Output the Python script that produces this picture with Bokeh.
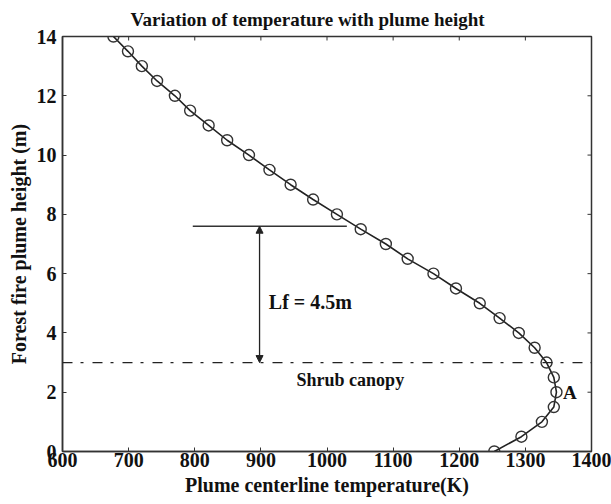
from bokeh.plotting import figure
from bokeh.models import Range1d, Span, Label, Arrow, NormalHead, ColumnDataSource, FixedTicker
from bokeh.embed import file_html
from bokeh.resources import INLINE

# Data
height_m = [0.0, 0.5, 1.0, 1.5, 2.0, 2.5, 3.0, 3.5, 4.0, 4.5, 5.0, 5.5, 6.0, 6.5,
            7.0, 7.5, 8.0, 8.5, 9.0, 9.5, 10.0, 10.5, 11.0, 11.5, 12.0, 12.5,
            13.0, 13.5, 14.0]
temperature_k = [1253, 1294, 1325, 1343, 1347, 1343, 1332, 1314, 1290, 1261, 1231,
                 1195, 1161, 1122, 1089, 1051, 1015, 979, 945, 913, 882, 849, 821,
                 793, 770, 743, 720, 699, 677]
x_ticks = [600, 700, 800, 900, 1000, 1100, 1200, 1300, 1400]
y_ticks = [0, 2, 4, 6, 8, 10, 12, 14]

canopy_height = 3.0
flame_top = 7.6
lf_x = 898
lf_line_x0, lf_line_x1 = 797, 1030

X_MIN, X_MAX, Y_MIN, Y_MAX = 600, 1400, 0, 14
FONT = "Liberation Serif"
INK = "#111111"

p = figure(width=611, height=504, output_backend="svg", toolbar_location=None,
           x_range=Range1d(X_MIN, X_MAX), y_range=Range1d(Y_MIN, Y_MAX),
           title="Variation of temperature with plume height")
p.min_border_left = 62
p.min_border_right = 20
p.min_border_top = 35
p.min_border_bottom = 53
p.background_fill_color = "white"
p.border_fill_color = "white"
p.xgrid.visible = False
p.ygrid.visible = False
p.outline_line_color = "#333333"
p.outline_line_width = 1.5

p.title.align = "left"
p.title.offset = 68
p.title.text_font = FONT
p.title.text_font_size = "19px"
p.title.text_font_style = "bold"
p.title.text_color = INK
p.title.standoff = 13

for ax in (p.xaxis[0], p.yaxis[0]):
    ax.major_tick_in = 4
    ax.major_tick_out = 0
    ax.minor_tick_line_color = None
    ax.axis_line_color = "#333333"
    ax.axis_line_width = 1.5
    ax.major_tick_line_color = "#333333"
    ax.major_label_text_font = FONT
    ax.major_label_text_font_size = "20px"
    ax.major_label_text_font_style = "bold"
    ax.major_label_text_color = INK
    ax.axis_label_text_font = FONT
    ax.axis_label_text_font_size = "20px"
    ax.axis_label_text_font_style = "bold"
    ax.axis_label_text_color = INK

p.xaxis[0].ticker = FixedTicker(ticks=x_ticks)
p.yaxis[0].ticker = FixedTicker(ticks=y_ticks)
p.xaxis[0].axis_label = "Plume centerline temperature(K)"
p.yaxis[0].axis_label = "Forest fire plume height (m)"
p.xaxis[0].major_label_standoff = 1
p.xaxis[0].axis_label_standoff = 4
p.yaxis[0].major_label_standoff = 6
p.yaxis[0].axis_label_standoff = 4

# Inward tick marks on the right and top edges (MATLAB style box)
x_tick_len = (X_MAX - X_MIN) * 4 / 529
y_tick_len = (Y_MAX - Y_MIN) * 4 / 416
p.segment(x0=[X_MAX] * len(y_ticks), y0=y_ticks,
          x1=[X_MAX - x_tick_len] * len(y_ticks), y1=y_ticks,
          line_color="#333333", line_width=1)
p.segment(x0=x_ticks, y0=[Y_MAX] * len(x_ticks),
          x1=x_ticks, y1=[Y_MAX - y_tick_len] * len(x_ticks),
          line_color="#333333", line_width=1)

src = ColumnDataSource(dict(t=temperature_k, h=height_m))
p.line("t", "h", source=src, line_color="#222222", line_width=1.6)
p.scatter("t", "h", source=src, marker="circle", size=11, fill_color=None,
          line_color="#333333", line_width=1.4)

# Shrub canopy dash-dot line
p.add_layout(Span(location=canopy_height, dimension="width", line_color="#222222",
                  line_width=1.3, line_dash="10 8 3 9"))

# Flame height marker line
p.segment(x0=[lf_line_x0], y0=[flame_top], x1=[lf_line_x1], y1=[flame_top],
          line_color="#333333", line_width=1.4)

# Double arrow
p.add_layout(Arrow(x_start=lf_x, y_start=canopy_height, x_end=lf_x, y_end=flame_top,
                   line_color="#222222", line_width=1.3,
                   start=NormalHead(size=7, fill_color="#222222", line_color="#222222"),
                   end=NormalHead(size=7, fill_color="#222222", line_color="#222222")))

p.add_layout(Label(x=912, y=5.03, text="Lf = 4.5m", text_font=FONT,
                   text_font_size="20px", text_font_style="bold", text_color=INK,
                   text_baseline="middle"))
p.add_layout(Label(x=954, y=2.42, text="Shrub canopy", text_font=FONT,
                   text_font_size="18px", text_font_style="bold", text_color=INK,
                   text_baseline="middle"))
p.add_layout(Label(x=1357, y=2.0, text="A", text_font=FONT,
                   text_font_size="19px", text_font_style="bold", text_color=INK,
                   text_baseline="middle"))

open("out.html", "w").write(file_html(p, INLINE))
